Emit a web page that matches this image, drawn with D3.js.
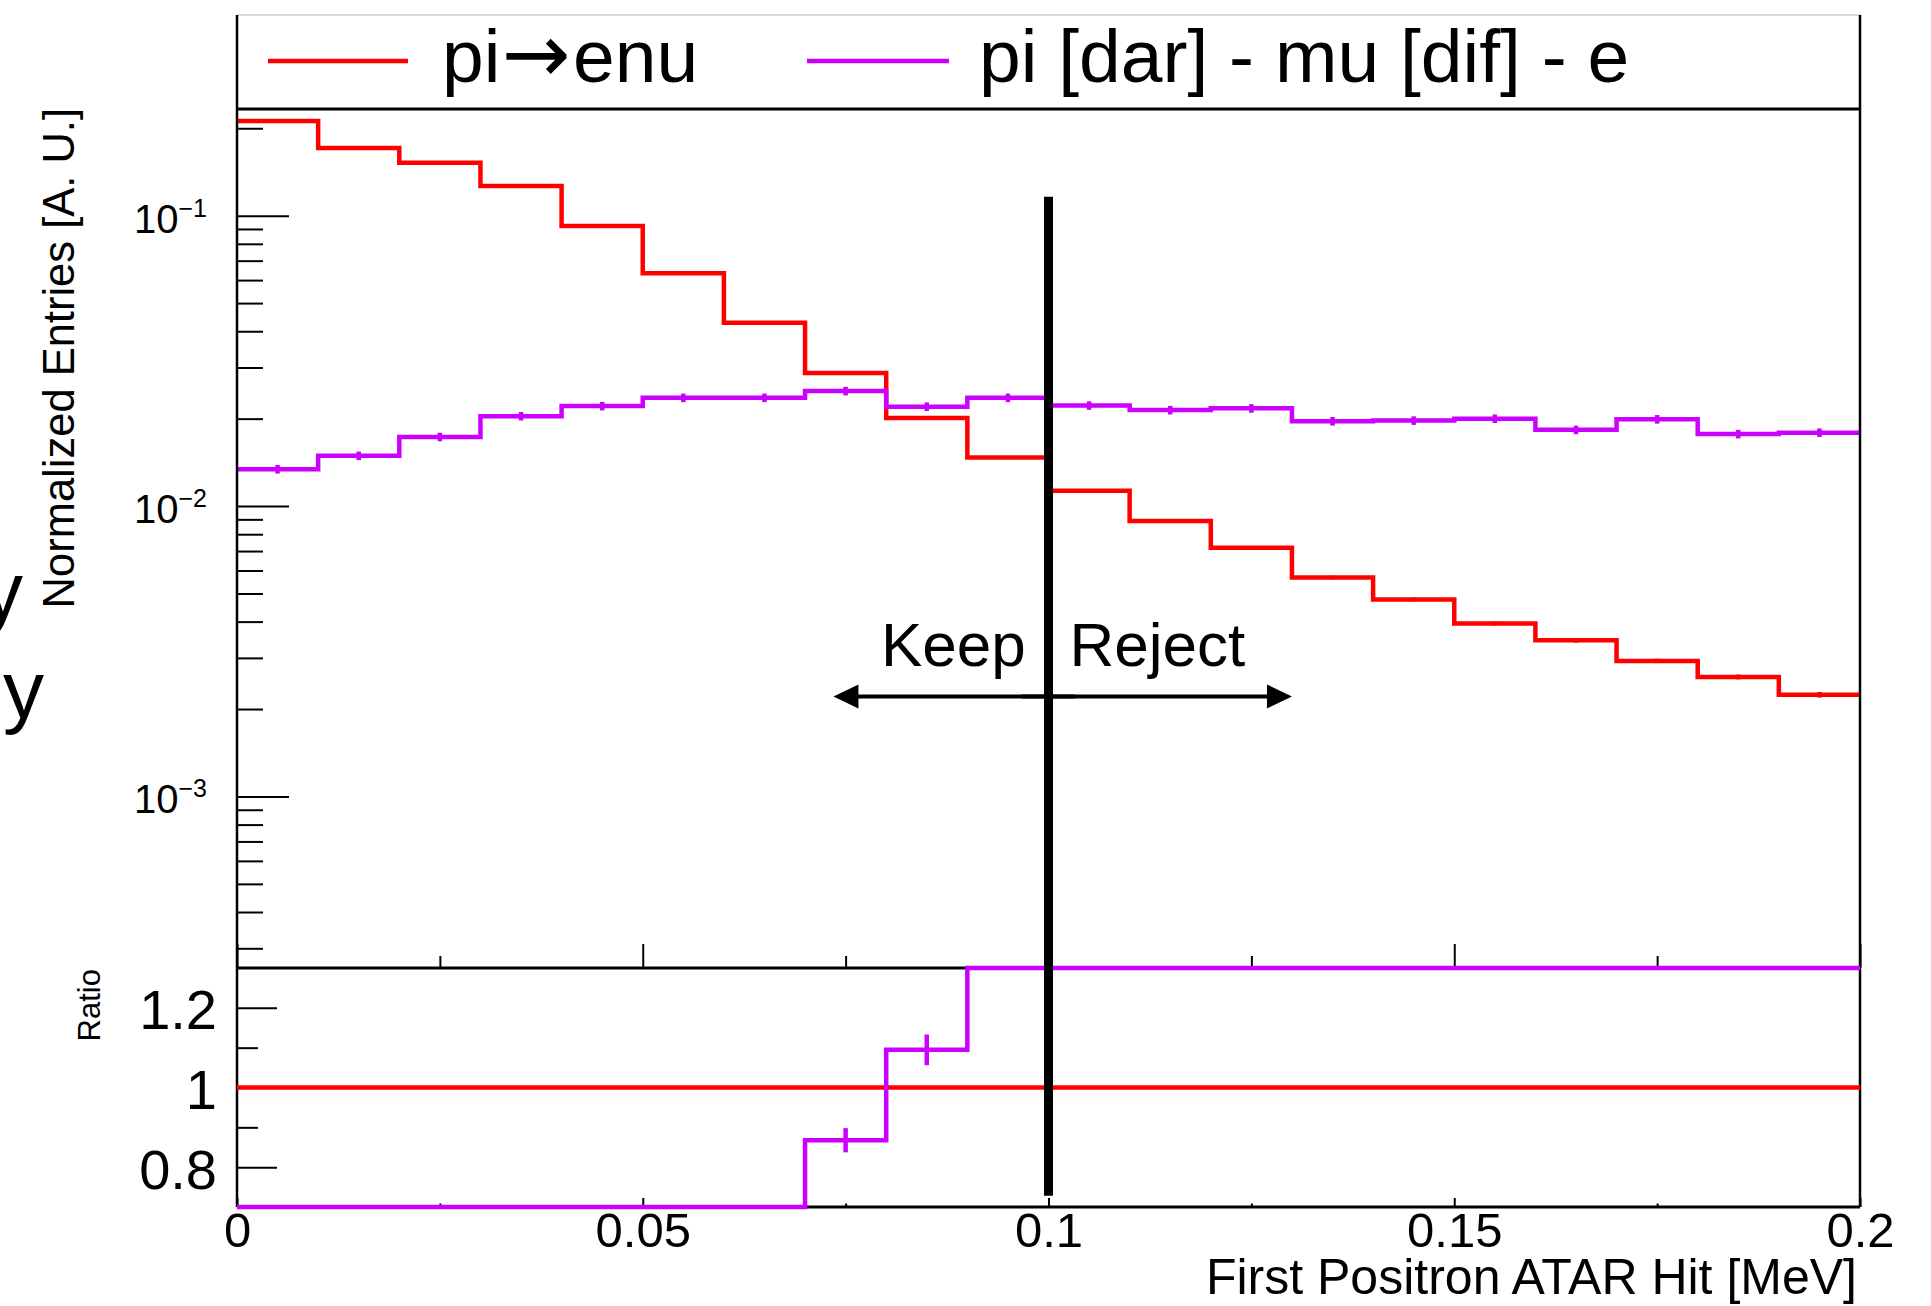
<!DOCTYPE html>
<html lang="en">
  <head>
    <meta charset="UTF-8" />
    <title>First positron ATAR hit</title>
    <style>
      body { margin: 0; background: #fff; }
      text { font-family: "Liberation Sans", Arial, Helvetica, sans-serif; fill: #000; }
    </style>
  </head>
  <body>
    <svg id="svg" width="1931" height="1306"></svg>

    <script src="https://d3js.org/d3.v7.min.js"></script>
    <script>
      // bins of 0.01 MeV
      const binEdges = [0, 0.01, 0.02, 0.03, 0.04, 0.05, 0.06, 0.07, 0.08, 0.09, 0.1,
        0.11, 0.12, 0.13, 0.14, 0.15, 0.16, 0.17, 0.18, 0.19, 0.2];

      // pi -> e nu
      const piEnu = [0.212, 0.171, 0.152, 0.1265, 0.0921, 0.0633, 0.0428, 0.0287, 0.0201, 0.0147,
        0.0113, 0.00888, 0.00719, 0.00567, 0.00477, 0.00394, 0.00345, 0.00293, 0.00258, 0.00224];
      const piEnuErr = [0.0011, 0.0009, 0.0008, 0.0007, 0.0005, 0.0004, 0.0003, 0.00023, 0.00017, 0.00014,
        0.00012, 0.0001, 0.00009, 0.00008, 0.00007, 0.00006, 0.00006, 0.00005, 0.00005, 0.00005];

      // pi [dar] - mu [dif] - e
      const piMuE = [0.0134, 0.0149, 0.0173, 0.0204, 0.0221, 0.0236, 0.0236, 0.0249, 0.022, 0.0236,
        0.0222, 0.0214, 0.0217, 0.0196, 0.0197, 0.02, 0.0183, 0.0199, 0.0177, 0.0179];
      const piMuEErr = [0.00046, 0.00051, 0.00059, 0.00069, 0.00075, 0.0008, 0.0008, 0.00085, 0.00075, 0.0008,
        0.00075, 0.00073, 0.00074, 0.00067, 0.00067, 0.00068, 0.00062, 0.00068, 0.0006, 0.00061];

      const xMajor = [0, 0.05, 0.1, 0.15, 0.2];
      const xLabels = ["0", "0.05", "0.1", "0.15", "0.2"];
      const xMinor = [0.025, 0.075, 0.125, 0.175];
      const yDecades = [1e-3, 1e-2, 1e-1];
      const yExponents = ["\u22123", "\u22122", "\u22121"];
      const ratioMajor = [0.8, 1, 1.2];
      const ratioLabels = ["0.8", "1", "1.2"];
      const ratioMinor = [0.9, 1.1];

      const cut = 0.1;
      const red = "#ff0000", purple = "#cc00ff";

      const left = 237, right = 1860, legendTop = 15, mainTop = 109, mainBottom = 968, ratioBottom = 1207;

      const x = d3.scaleLinear().domain([0, 0.2]).range([left, right]);
      const y = d3.scaleLog().domain([2.566e-4, 0.233]).range([mainBottom, mainTop]);
      const yr = d3.scaleLinear().domain([0.7, 1.3]).range([ratioBottom, mainBottom]).clamp(true);

      const svg = d3.select("#svg");

      // stray letters cut off at the left edge
      svg.append("text").attr("x", -18).attr("y", 619).attr("font-size", 82).text("y");
      svg.append("text").attr("x", 3).attr("y", 718).attr("font-size", 82).text("y");

      // ticks
      function ticks(axis, tx, ty) {
        const g = svg.append("g").attr("transform", `translate(${tx},${ty})`).call(axis);
        g.select(".domain").remove();
        g.selectAll("line").attr("stroke", "#000").attr("stroke-width", 2);
        return g;
      }
      const yMinor = y.ticks().filter((v) => !yDecades.some((d) => Math.abs(d - v) < 1e-12));
      ticks(d3.axisRight(y).tickValues(yDecades).tickSize(52).tickFormat(""), left, 0);
      ticks(d3.axisRight(y).tickValues(yMinor).tickSize(26).tickFormat(""), left, 0);
      ticks(d3.axisTop(x).tickValues(xMajor).tickSize(24).tickFormat(""), 0, mainBottom);
      ticks(d3.axisTop(x).tickValues(xMinor).tickSize(12).tickFormat(""), 0, mainBottom);
      ticks(d3.axisRight(yr).tickValues(ratioMajor).tickSize(40).tickFormat(""), left, 0);
      ticks(d3.axisRight(yr).tickValues(ratioMinor).tickSize(21).tickFormat(""), left, 0);
      ticks(d3.axisTop(x).tickValues(xMajor).tickSize(9).tickFormat(""), 0, ratioBottom);
      ticks(d3.axisTop(x).tickValues(xMinor).tickSize(3.5).tickFormat(""), 0, ratioBottom);

      // tick labels
      const xl = ticks(d3.axisBottom(x).tickValues(xMajor).tickSize(0).tickFormat((d, i) => xLabels[i]), 0, ratioBottom);
      xl.selectAll("text").attr("y", 40).attr("dy", 0).attr("font-size", 49).attr("font-family", null);

      const rl = ticks(d3.axisLeft(yr).tickValues(ratioMajor).tickSize(0).tickFormat((d, i) => ratioLabels[i]), 217, 0);
      rl.selectAll("text").attr("x", 0).attr("dy", 21).attr("font-size", 56).attr("font-family", null);

      yDecades.forEach((d, i) => {
        const t = svg.append("text").attr("x", 207).attr("y", y(d) + 17)
          .attr("text-anchor", "end").attr("font-size", 40);
        t.append("tspan").text("10");
        t.append("tspan").attr("dy", -16).attr("font-size", 25).text(yExponents[i]);
      });

      // histograms
      const steps = (vals) => vals.map((v, i) => [binEdges[i], v]).concat([[binEdges[vals.length], vals[vals.length - 1]]]);
      const mainLine = d3.line().x((d) => x(d[0])).y((d) => y(d[1])).curve(d3.curveStepAfter);
      const ratioLine = d3.line().x((d) => x(d[0])).y((d) => yr(d[1])).curve(d3.curveStepAfter);
      const mid = (i) => (binEdges[i] + binEdges[i + 1]) / 2;

      const ratioRed = piEnu.map((v) => v / v);
      const ratioPurple = piMuE.map((v, i) => v / piEnu[i]);
      const ratioPurpleErr = ratioPurple.map((r, i) =>
        r * Math.sqrt((piMuEErr[i] / piMuE[i]) ** 2 + (piEnuErr[i] / piEnu[i]) ** 2));

      const hists = [
        { vals: piEnu, err: piEnuErr, color: red },
        { vals: piMuE, err: piMuEErr, color: purple },
      ];
      hists.forEach((h) => {
        svg.append("path").attr("d", mainLine(steps(h.vals)))
          .attr("fill", "none").attr("stroke", h.color).attr("stroke-width", 4.5);
        svg.append("g").selectAll("line").data(h.vals).join("line")
          .attr("x1", (d, i) => x(mid(i))).attr("x2", (d, i) => x(mid(i)))
          .attr("y1", (d, i) => y(d - h.err[i])).attr("y2", (d, i) => y(d + h.err[i]))
          .attr("stroke", h.color).attr("stroke-width", 4.5);
      });

      // frames
      svg.append("line").attr("x1", left).attr("x2", right).attr("y1", legendTop).attr("y2", legendTop)
        .attr("stroke", "#cccccc").attr("stroke-width", 1.5);
      [left, right].forEach((xx) => {
        svg.append("line").attr("x1", xx).attr("x2", xx).attr("y1", legendTop).attr("y2", ratioBottom)
          .attr("stroke", "#000").attr("stroke-width", 2.5);
      });
      [mainTop, mainBottom, ratioBottom].forEach((yy) => {
        svg.append("line").attr("x1", left).attr("x2", right).attr("y1", yy).attr("y2", yy)
          .attr("stroke", "#000").attr("stroke-width", 2.8);
      });

      // ratio panel
      svg.append("path").attr("d", ratioLine(steps(ratioRed)))
        .attr("fill", "none").attr("stroke", red).attr("stroke-width", 4.5);
      svg.append("path").attr("d", ratioLine(steps(ratioPurple)))
        .attr("fill", "none").attr("stroke", purple).attr("stroke-width", 4.5);
      svg.append("g").selectAll("line")
        .data(ratioPurple.map((r, i) => ({ r, e: ratioPurpleErr[i], i })).filter((d) => d.r > 0.7 && d.r < 1.3))
        .join("line")
        .attr("x1", (d) => x(mid(d.i))).attr("x2", (d) => x(mid(d.i)))
        .attr("y1", (d) => yr(d.r - d.e)).attr("y2", (d) => yr(d.r + d.e))
        .attr("stroke", purple).attr("stroke-width", 4.5);

      // legend
      const legendY = 61;
      svg.append("line").attr("x1", 268).attr("x2", 408).attr("y1", legendY).attr("y2", legendY)
        .attr("stroke", red).attr("stroke-width", 4.5);
      const l1 = svg.append("text").attr("x", 442).attr("y", 82).attr("font-size", 75);
      l1.append("tspan").text("pi");
      l1.append("tspan").attr("font-family", "'DejaVu Sans'").attr("font-size", 82).attr("dx", 1).text("\u2192");
      l1.append("tspan").attr("dx", 3).text("enu");

      svg.append("line").attr("x1", 807).attr("x2", 949).attr("y1", legendY).attr("y2", legendY)
        .attr("stroke", purple).attr("stroke-width", 4.5);
      svg.append("text").attr("x", 979).attr("y", 82).attr("font-size", 75).text("pi [dar] - mu [dif] - e");

      // cut line and arrows
      svg.append("line").attr("x1", x(cut)).attr("x2", x(cut)).attr("y1", y(0.1162)).attr("y2", yr(0.728))
        .attr("stroke", "#000").attr("stroke-width", 9);

      const arrowY = y(0.00221);
      [[0.1033, 0.0735], [0.0967, 0.13]].forEach(([from, to]) => {
        const dir = Math.sign(x(to) - x(from));
        const tip = x(to);
        svg.append("line").attr("x1", x(from)).attr("x2", tip - dir * 20).attr("y1", arrowY).attr("y2", arrowY)
          .attr("stroke", "#000").attr("stroke-width", 4);
        svg.append("path")
          .attr("d", `M${tip},${arrowY}L${tip - dir * 25},${arrowY - 12}L${tip - dir * 25},${arrowY + 12}Z`)
          .attr("fill", "#000");
      });
      svg.append("text").attr("x", x(0.0972)).attr("y", y(0.00282)).attr("text-anchor", "end")
        .attr("font-size", 62).text("Keep");
      svg.append("text").attr("x", x(0.1026)).attr("y", y(0.00282))
        .attr("font-size", 62).text("Reject");

      // axis titles
      svg.append("text").attr("transform", "translate(74,108) rotate(-90)").attr("text-anchor", "end")
        .attr("font-size", 43.5).text("Normalized Entries [A. U.]");
      svg.append("text").attr("transform", "translate(100,969) rotate(-90)").attr("text-anchor", "end")
        .attr("font-size", 31).text("Ratio");
      svg.append("text").attr("x", 1857).attr("y", 1294).attr("text-anchor", "end")
        .attr("font-size", 50).text("First Positron ATAR Hit [MeV]");
    </script>
  </body>
</html>
